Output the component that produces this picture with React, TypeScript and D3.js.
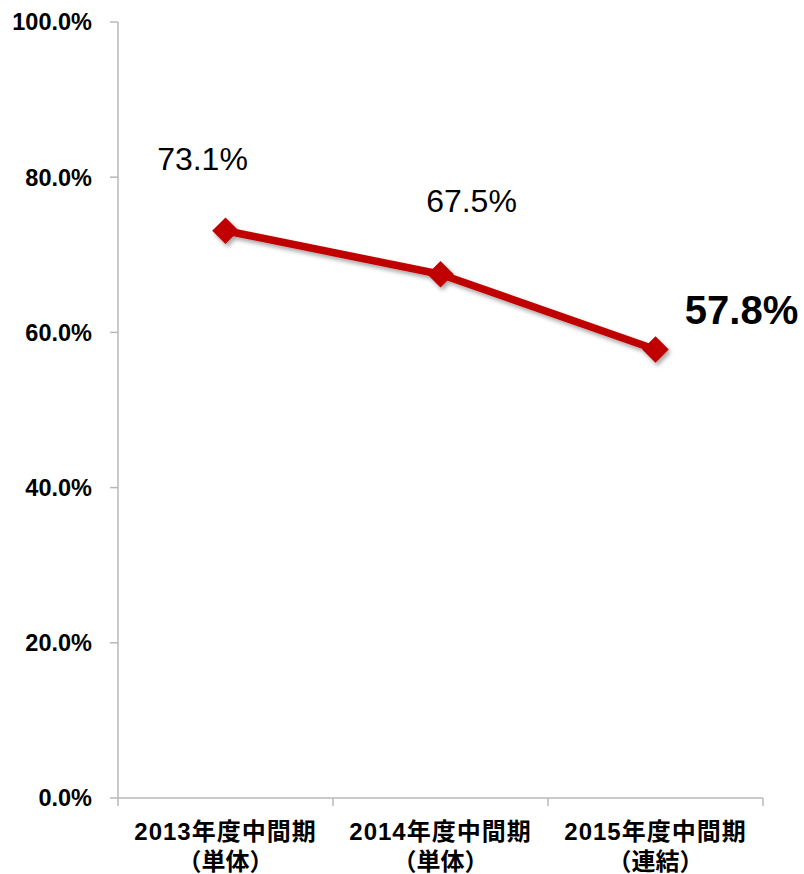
import React, { useEffect, useRef } from "react";
import * as d3 from "d3";

// chart values
const categories = ["2013年度中間期", "2014年度中間期", "2015年度中間期"];
const subLabels = ["（単体）", "（単体）", "（連結）"];
const ratios = [73.1, 67.5, 57.8];
const yTicks = [0, 20, 40, 60, 80, 100];

// label placement relative to each point (dx, dy), last one is highlighted
const labelOffsets: [number, number][] = [
  [-23, -61],
  [31, -62],
  [86, -25],
];

const W = 804;
const H = 874;
const margin = { top: 22, right: 41, bottom: 76, left: 118 };

export default function App() {
  const svgRef = useRef<SVGSVGElement>(null);

  useEffect(() => {
    if (!svgRef.current) return;
    const svg = d3.select(svgRef.current);
    svg.selectAll("*").remove();

    const x = d3
      .scaleBand<string>()
      .domain(categories)
      .range([margin.left, W - margin.right])
      .paddingInner(0)
      .paddingOuter(0);
    const y = d3
      .scaleLinear()
      .domain([0, 100])
      .range([H - margin.bottom, margin.top]);

    const axisColor = "#b8b8b8";
    const font = "'Liberation Sans', Arial, sans-serif";

    const defs = svg.append("defs");
    const filter = defs
      .append("filter")
      .attr("id", "shadow")
      .attr("x", "-30%")
      .attr("y", "-30%")
      .attr("width", "160%")
      .attr("height", "160%");
    filter
      .append("feDropShadow")
      .attr("dx", 2)
      .attr("dy", 3)
      .attr("stdDeviation", 2)
      .attr("flood-color", "#000")
      .attr("flood-opacity", 0.35);

    // y axis
    const yAxis = svg.append("g");
    yAxis
      .append("line")
      .attr("x1", margin.left)
      .attr("x2", margin.left)
      .attr("y1", y(100))
      .attr("y2", y(0))
      .attr("stroke", axisColor)
      .attr("stroke-width", 1.5);
    yTicks.forEach((t) => {
      yAxis
        .append("line")
        .attr("x1", margin.left - 8)
        .attr("x2", margin.left)
        .attr("y1", y(t))
        .attr("y2", y(t))
        .attr("stroke", axisColor)
        .attr("stroke-width", 1.5);
      yAxis
        .append("text")
        .attr("x", margin.left - 26)
        .attr("y", y(t))
        .attr("dy", "0.36em")
        .attr("text-anchor", "end")
        .attr("font-family", font)
        .attr("font-weight", "bold")
        .attr("font-size", 23.5)
        .attr("fill", "#000")
        .text(d3.format(".1f")(t) + "%");
    });

    // x axis
    const xAxis = svg.append("g");
    xAxis
      .append("line")
      .attr("x1", margin.left)
      .attr("x2", W - margin.right)
      .attr("y1", y(0))
      .attr("y2", y(0))
      .attr("stroke", axisColor)
      .attr("stroke-width", 1.5);
    const bounds = [...categories.map((c) => x(c)!), W - margin.right];
    bounds.forEach((bx) => {
      xAxis
        .append("line")
        .attr("x1", bx)
        .attr("x2", bx)
        .attr("y1", y(0))
        .attr("y2", y(0) + 8)
        .attr("stroke", axisColor)
        .attr("stroke-width", 1.5);
    });
    categories.forEach((c, i) => {
      const cx = x(c)! + x.bandwidth() / 2;
      const t = xAxis
        .append("text")
        .attr("text-anchor", "middle")
        .attr("font-family", "'Liberation Sans', 'Noto Sans CJK JP', sans-serif")
        .attr("font-weight", "bold")
        .attr("font-size", 24)
        .attr("fill", "#000");
      t.append("tspan")
        .attr("x", cx)
        .attr("y", y(0) + 42)
        .attr("letter-spacing", 1)
        .text(c);
      t.append("tspan").attr("x", cx).attr("y", y(0) + 72).text(subLabels[i]);
    });

    // line
    const points = categories.map((c, i) => ({
      x: x(c)! + x.bandwidth() / 2,
      y: y(ratios[i]),
      v: ratios[i],
    }));
    const line = d3
      .line<{ x: number; y: number }>()
      .x((d) => d.x)
      .y((d) => d.y);

    const series = svg.append("g").attr("filter", "url(#shadow)");
    series
      .append("path")
      .attr("d", line(points))
      .attr("fill", "none")
      .attr("stroke", "#c00000")
      .attr("stroke-width", 7.5)
      .attr("stroke-linejoin", "round");
    const diamond = d3.symbol().type(d3.symbolDiamond2).size(15 * 15 * 2);
    series
      .selectAll("path.marker")
      .data(points)
      .join("path")
      .attr("class", "marker")
      .attr("transform", (d) => `translate(${d.x},${d.y})`)
      .attr("d", diamond)
      .attr("fill", "#c00000");

    // value labels
    points.forEach((p, i) => {
      const last = i === points.length - 1;
      svg
        .append("text")
        .attr("x", p.x + labelOffsets[i][0])
        .attr("y", p.y + labelOffsets[i][1])
        .attr("text-anchor", "middle")
        .attr("font-family", font)
        .attr("font-weight", last ? "bold" : "normal")
        .attr("font-size", last ? 40 : 32)
        .attr("fill", "#000")
        .text(d3.format(".1f")(p.v) + "%");
    });
  }, []);

  return (
    <div style={{ position: "absolute", left: 0, top: 0 }}>
      <svg ref={svgRef} width={W} height={H} style={{ display: "block" }} />
    </div>
  );
}
